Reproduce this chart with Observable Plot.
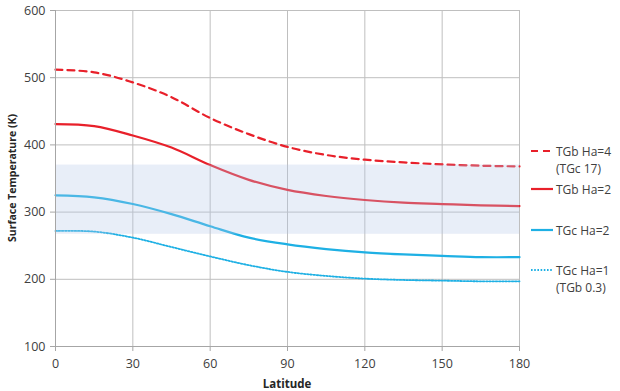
<!DOCTYPE html>
<html>
<head>
<meta charset="utf-8">
<script src="https://cdn.jsdelivr.net/npm/d3@7"></script>
<script src="https://cdn.jsdelivr.net/npm/@observablehq/plot@0.6"></script>
<style>
  html, body { margin: 0; padding: 0; background: #fff; }
  #wrap { position: relative; width: 620px; height: 391px; font-family: "Open Sans", sans-serif; }
  .leg { position: absolute; left: 531px; font-size: 12px; color: #404040; line-height: 17px; }
  .leg svg { position: absolute; left: 0; top: 0; }
  .leg span { position: absolute; left: 25px; top: -9px; white-space: nowrap; }
</style>
</head>
<body>
<div id="wrap"></div>
<script>
const latitudes = [0, 15, 30, 45, 60, 75, 90, 105, 120, 135, 150, 165, 180];
const tgbHa4 = [512, 508, 493, 471, 440, 416, 397, 385, 378, 374, 371, 369, 368];
const tgbHa2 = [431, 428, 414, 396, 370, 348, 333, 324, 318, 314, 312, 310, 309];
const tgcHa2 = [325, 322, 312, 297, 279, 262, 252, 245, 240, 237, 235, 233, 233];
const tgcHa1 = [272, 271, 262, 248, 234, 221, 211, 205, 201, 199, 198, 197, 197];
const seriesNames = ["TGb Ha=4|(TGc 17)", "TGb Ha=2", "TGc Ha=2", "TGc Ha=1|(TGb 0.3)"];
const band = [267, 370];
const xTicks = [0, 30, 60, 90, 120, 150, 180];
const yTicks = [100, 200, 300, 400, 500, 600];

const RED = "#e8202a", BLUE = "#1eb0e4";
const styles = [
  {stroke: RED, dash: "7,5", width: 2.2},
  {stroke: RED, dash: null, width: 2.2},
  {stroke: BLUE, dash: null, width: 2.2},
  {stroke: BLUE, dash: "1.6,1.6", width: 1.8}
];
const allSeries = [tgbHa4, tgbHa2, tgcHa2, tgcHa1];
const lineMarks = allSeries.map((s, i) => Plot.line(
  latitudes.map((x, j) => ({x, y: s[j]})),
  {x: "x", y: "y", stroke: styles[i].stroke, strokeWidth: styles[i].width,
   strokeDasharray: styles[i].dash, curve: "catmull-rom"}
));

const chart = Plot.plot({
  width: 620,
  height: 391,
  marginLeft: 55,
  marginRight: 101,
  marginTop: 10,
  marginBottom: 45,
  style: {fontFamily: "Open Sans, sans-serif", fontSize: "12.5px", color: "#404040", background: "#fff"},
  x: {domain: [0, 180], ticks: xTicks, label: null},
  y: {domain: [100, 600], ticks: yTicks, label: null},
  marks: [
    Plot.gridX(xTicks, {stroke: "#bfbfbf", strokeOpacity: 1, strokeWidth: 1}),
    Plot.gridY(yTicks, {stroke: "#bfbfbf", strokeOpacity: 1, strokeWidth: 1}),
    ...lineMarks,
    Plot.rect([{y1: band[0], y2: band[1]}], {x1: xTicks[0], x2: xTicks[xTicks.length - 1], y1: "y1", y2: "y2", fill: "#b2c6e8", fillOpacity: 0.3}),
    Plot.axisX({ticks: xTicks, tickSize: 5, tickPadding: 8, stroke: "#a6a6a6", fill: "#404040", fontSize: 12.5, label: null}),
    Plot.axisY({ticks: yTicks, tickSize: 5, tickPadding: 5, stroke: "#a6a6a6", fill: "#404040", fontSize: 12.5, label: null}),
    Plot.ruleX([0], {stroke: "#a6a6a6"}),
    Plot.ruleY([100], {stroke: "#a6a6a6"})
  ]
});
const wrap = document.getElementById("wrap");
wrap.appendChild(chart);

// axis titles
const svg = d3.select(chart);
svg.append("text").attr("x", 287).attr("y", 388)
  .attr("text-anchor", "middle").attr("font-weight", "bold").attr("font-size", 11.5)
  .attr("fill", "#262626").text("Latitude");
svg.append("text").attr("transform", "translate(16,178) rotate(-90)")
  .attr("text-anchor", "middle").attr("font-weight", "bold").attr("font-size", 10.5)
  .attr("fill", "#262626").text("Surface Temperature (K)");

// legend
const legY = [152, 190, 231, 271];
seriesNames.forEach((name, i) => {
  const d = document.createElement("div");
  d.className = "leg";
  d.style.top = legY[i] + "px";
  const st = styles[i];
  d.innerHTML = `<svg width="24" height="4" style="top:-1px;overflow:visible"><line x1="0" x2="22" y1="0" y2="0" stroke="${st.stroke}" stroke-width="${st.width}" ${st.dash ? `stroke-dasharray="${st.dash}"` : ""}/></svg>` +
    `<span>${name.split("|").join("<br>")}</span>`;
  wrap.appendChild(d);
});
</script>
</body>
</html>
